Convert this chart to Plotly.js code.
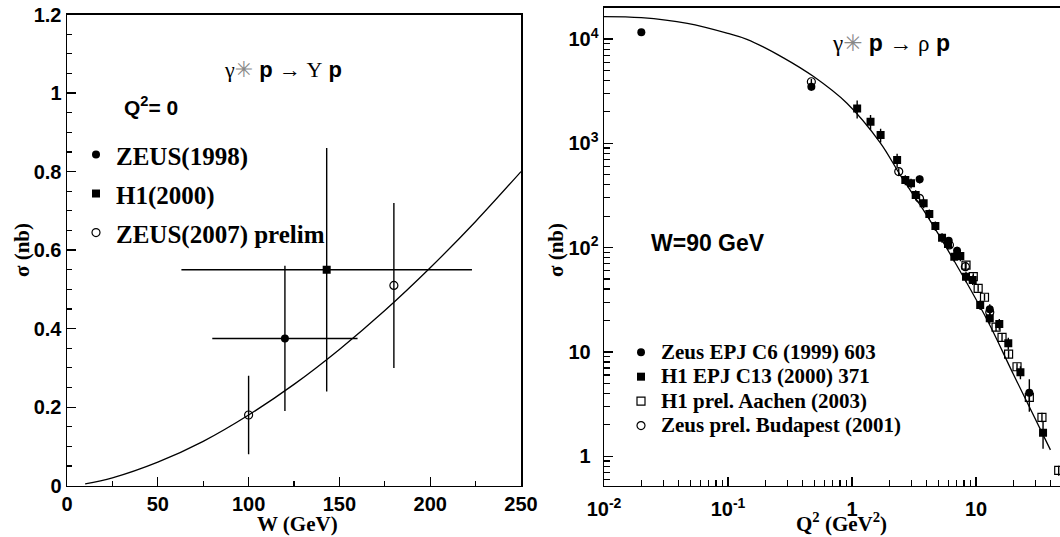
<!DOCTYPE html>
<html><head><meta charset="utf-8">
<script src="https://cdn.plot.ly/plotly-3.0.1.min.js"></script>
<style>html,body{margin:0;padding:0;background:#fff;overflow:hidden}#chart{width:1060px;height:537px}</style>
</head><body><div id="chart"></div>
<script>
// ===== Left panel: gamma* p -> Upsilon p  (Q^2 = 0) =====
const zeus98_W = [120];
const zeus98_sigma = [0.375];
const zeus98_errW = [40];
const zeus98_errSigma = [0.185];

const h1_00_W = [143];
const h1_00_sigma = [0.55];
const h1_00_errW = [80];
const h1_00_errSigma = [0.31];

const zeus07_W = [100, 180];
const zeus07_sigma = [0.18, 0.51];
const zeus07_errSigma = [0.10, 0.21];

const upsCurve_W = [10, 25, 50, 75, 100, 125, 150, 175, 200, 225, 250];
const upsCurve_sigma = [0.0045, 0.020, 0.060, 0.113, 0.180, 0.258, 0.347, 0.446, 0.555, 0.673, 0.800];

const leftLegendNames = ['ZEUS(1998)', 'H1(2000)', 'ZEUS(2007) prelim'];
const xTickVals1 = [0, 50, 100, 150, 200, 250];
const xTickText1 = ['0', '50', '100', '150', '200', '250'];
const yTickVals1 = [0, 0.2, 0.4, 0.6, 0.8, 1, 1.2];
const yTickText1 = ['0', '0.2', '0.4', '0.6', '0.8', '1', '1.2'];

// ===== Right panel: gamma* p -> rho p  (W = 90 GeV) =====
const zeus99_Q2 = [0.02, 0.47, 3.51, 6.02, 7.03, 12.9, 26.9];
const zeus99_sigma = [11600, 3490, 452, 116, 93, 25.6, 4.06];
const zeus99_err = [700, 300, 40, 10, 9, 3, 1.4];

const h1_00r_Q2 = [1.10, 1.41, 1.70, 2.31, 2.69, 2.99, 3.26, 3.78, 4.20, 4.70, 5.32, 5.94, 6.68, 7.47, 8.3, 9.4, 10.8, 12.9, 15.4, 18.2, 22.8, 34.7];
const h1_00r_sigma = [2150, 1610, 1200, 692, 445, 413, 319, 266, 210, 161, 124, 108, 81.8, 83, 52.6, 48.9, 28.2, 21, 18.5, 12.1, 6.37, 1.68];
const h1_00r_err = [420, 260, 180, 100, 50, 45, 35, 28, 22, 17, 13, 12, 9, 9, 6, 5, 3, 2.5, 2.2, 1.6, 0.9, 0.5];

const h1_03_Q2 = [8.3, 9.5, 10.4, 11.7, 14.5, 16.2, 18.3, 21.4, 26.9, 34.0, 46.4];
const h1_03_sigma = [68, 52.6, 40.7, 33.4, 17.3, 13.8, 9.5, 7.2, 3.67, 2.36, 0.73];
const h1_03_err = [5, 4, 3, 2.5, 1.5, 1.2, 0.8, 0.6, 0.35, 0.25, 0.08];

const zeus01_Q2 = [0.47, 2.38, 3.5, 6.1, 8.2, 12.9];
const zeus01_sigma = [3890, 535, 297, 106, 65.6, 24];
const zeus01_err = [250, 40, 25, 8, 6, 2.5];

const rhoCurve_Q2 = [0.01, 0.02, 0.047, 0.1, 0.142, 0.28, 0.49, 0.91, 1.69, 2.45, 4.0, 6.6, 12.3, 20, 39.8];
const rhoCurve_sigma = [16400, 16000, 14100, 11300, 9930, 6600, 4360, 2420, 1010, 495, 205, 76, 20.2, 6.1, 1.15];

const rightLegendNames = ['Zeus EPJ C6 (1999) 603', 'H1 EPJ C13 (2000) 371', 'H1 prel. Aachen (2003)', 'Zeus prel. Budapest (2001)'];

// ticks
const hid = "<sup><span style='color:rgba(0,0,0,0)'>0</span></sup>";
const xTickVals2 = [0.01, 0.1, 1, 10];
const xTickText2 = ['10<sup>-2</sup>', '10<sup>-1</sup>', '1', '10'];
const xMinorVals2 = [0.02,0.03,0.04,0.05,0.06,0.07,0.08,0.09,0.2,0.3,0.4,0.5,0.6,0.7,0.8,0.9,2,3,4,5,6,7,8,9,20,30,40];
const yTickVals2 = [1, 10, 100, 1000, 10000];
const yTickText2 = ['1' + hid, '10' + hid, '10<sup>2</sup>', '10<sup>3</sup>', '10<sup>4</sup>'];
const yMinorVals2 = [0.6,0.7,0.8,0.9,2,3,4,5,6,7,8,9,20,30,40,50,60,70,80,90,200,300,400,500,600,700,800,900,2000,3000,4000,5000,6000,7000,8000,9000];

// ===== geometry helpers (layout only) =====
const W = 1060, H = 537;
const px = v => v / W;
const py = v => 1 - v / H;
const bold = arr => arr.map(s => '<b>' + s + '</b>');

const K = '#000';
const err = (arr) => ({type: 'data', array: arr, width: 0, thickness: 1.4, color: K});
const lgL = s => "<span style='font-size:25px'>" + s + "</span>";
const lgR = s => "<span style='font-size:21px'>" + s + "</span>";

const traces = [
  {x: upsCurve_W, y: upsCurve_sigma, xaxis: 'x', yaxis: 'y', mode: 'lines', line: {color: K, width: 1.3, shape: 'spline'}, showlegend: false, hoverinfo: 'skip'},
  {x: zeus98_W, y: zeus98_sigma, xaxis: 'x', yaxis: 'y', mode: 'markers', name: lgL(leftLegendNames[0]), legend: 'legend',
   marker: {symbol: 'circle', size: 8, color: K}, error_x: err(zeus98_errW), error_y: err(zeus98_errSigma)},
  {x: h1_00_W, y: h1_00_sigma, xaxis: 'x', yaxis: 'y', mode: 'markers', name: lgL(leftLegendNames[1]), legend: 'legend',
   marker: {symbol: 'square', size: 8, color: K}, error_x: err(h1_00_errW), error_y: err(h1_00_errSigma)},
  {x: zeus07_W, y: zeus07_sigma, xaxis: 'x', yaxis: 'y', mode: 'markers', name: lgL(leftLegendNames[2]), legend: 'legend',
   marker: {symbol: 'circle-open', size: 8, color: K, line: {width: 1.2, color: K}}, error_y: err(zeus07_errSigma)},

  {x: rhoCurve_Q2, y: rhoCurve_sigma, xaxis: 'x2', yaxis: 'y2', mode: 'lines', line: {color: K, width: 1.3, shape: 'spline'}, showlegend: false, hoverinfo: 'skip'},
  {x: h1_03_Q2, y: h1_03_sigma, xaxis: 'x2', yaxis: 'y2', mode: 'markers', name: lgR(rightLegendNames[2]), legend: 'legend2', legendrank: 3,
   marker: {symbol: 'square-open', size: 8, color: K, line: {width: 1.2, color: K}}, error_y: err(h1_03_err)},
  {x: zeus01_Q2, y: zeus01_sigma, xaxis: 'x2', yaxis: 'y2', mode: 'markers', name: lgR(rightLegendNames[3]), legend: 'legend2', legendrank: 4,
   marker: {symbol: 'circle-open', size: 8, color: K, line: {width: 1.2, color: K}}, error_y: err(zeus01_err)},
  {x: h1_00r_Q2, y: h1_00r_sigma, xaxis: 'x2', yaxis: 'y2', mode: 'markers', name: lgR(rightLegendNames[1]), legend: 'legend2', legendrank: 2,
   marker: {symbol: 'square', size: 8, color: K}, error_y: err(h1_00r_err)},
  {x: zeus99_Q2, y: zeus99_sigma, xaxis: 'x2', yaxis: 'y2', mode: 'markers', name: lgR(rightLegendNames[0]), legend: 'legend2', legendrank: 1,
   marker: {symbol: 'circle', size: 8, color: K}, error_y: err(zeus99_err)}
];

const tickFont = {family: 'Liberation Sans', size: 20, weight: 'bold', color: K};
const baseAxis = {showgrid: false, zeroline: false, showline: true, linecolor: K, linewidth: 1.5,
  ticks: 'inside', ticklen: 9, tickwidth: 1.3, tickcolor: K, tickfont: tickFont, fixedrange: true, tickmode: 'array'};

const serifB = {family: 'Liberation Serif', size: 21, weight: 'bold', color: K};
const sansB = (s) => ({family: 'Liberation Sans', size: s, weight: 'bold', color: K});
const S = 'font-family:Liberation Serif;font-weight:normal';
const star = "<span style='font-family:DejaVu Sans;font-weight:normal;color:#888'>✳</span>";

const layout = {
  width: W, height: H,
  margin: {l: 0, r: 0, t: 0, b: 0, pad: 0},
  paper_bgcolor: '#fff', plot_bgcolor: '#fff',
  font: {family: 'Liberation Sans', color: K},
  hovermode: false,
  xaxis: Object.assign({}, baseAxis, {domain: [px(67), px(521)], range: [0, 250], mirror: true, anchor: 'y',
    tickvals: xTickVals1, ticktext: bold(xTickText1),
    minor: {dtick: 25, ticks: 'inside', ticklen: 5, tickwidth: 1.2, tickcolor: K}}),
  yaxis: Object.assign({}, baseAxis, {domain: [py(485.7), py(14.5)], range: [0, 1.2], mirror: true, anchor: 'x',
    tickvals: yTickVals1, ticktext: bold(yTickText1),
    minor: {dtick: 0.05, ticks: 'inside', ticklen: 5, tickwidth: 1.2, tickcolor: K}}),
  xaxis2: Object.assign({}, baseAxis, {type: 'log', domain: [px(604), 1], range: [-2, 1.677], mirror: true, anchor: 'y2',
    tickvals: xTickVals2, ticktext: bold(xTickText2), ticklabelstandoff: 5,
    minor: {tickmode: 'array', tickvals: xMinorVals2, ticks: 'inside', ticklen: 6, tickwidth: 1.2, tickcolor: K}}),
  yaxis2: Object.assign({}, baseAxis, {type: 'log', domain: [py(485.7), py(7.7)], range: [-0.283, 4.30], anchor: 'x2',
    tickvals: yTickVals2, ticktext: bold(yTickText2),
    minor: {tickmode: 'array', tickvals: yMinorVals2, ticks: 'inside', ticklen: 6, tickwidth: 1.2, tickcolor: K}}),
  legend: {x: px(76), y: py(130), xanchor: 'left', yanchor: 'top', bgcolor: 'rgba(0,0,0,0)', borderwidth: 0,
    font: {family: 'Liberation Serif', size: 27.7, weight: 'bold', color: K}, tracegroupgap: 0, itemclick: false, itemdoubleclick: false},
  legend2: {x: px(621), y: py(335), xanchor: 'left', yanchor: 'top', bgcolor: 'rgba(0,0,0,0)', borderwidth: 0, traceorder: 'normal',
    font: {family: 'Liberation Serif', size: 16.5, weight: 'bold', color: K}, tracegroupgap: 0, itemclick: false, itemdoubleclick: false},
  annotations: [
    {xref: 'paper', yref: 'paper', x: px(282.5), y: py(70), xanchor: 'center', yanchor: 'middle', showarrow: false,
     font: sansB(22), text: "<span style='" + S + "'>γ</span>" + star + " <b>p</b> <span style='" + S + "'>→ Υ</span> <b>p</b>"},
    {xref: 'paper', yref: 'paper', x: px(122), y: py(106), xanchor: 'left', yanchor: 'middle', showarrow: false,
     font: sansB(21), text: '<b>Q<sup>2</sup>= 0</b>'},
    {xref: 'paper', yref: 'paper', x: px(891), y: py(43), xanchor: 'center', yanchor: 'middle', showarrow: false,
     font: sansB(23), text: "<span style='" + S + "'>γ</span>" + star + " <b>p</b> <span style='" + S + "'>→ ρ</span> <b>p</b>"},
    {xref: 'paper', yref: 'paper', x: px(649), y: py(243), xanchor: 'left', yanchor: 'middle', showarrow: false,
     font: sansB(23), text: '<b>W=90 GeV</b>'},
    {xref: 'paper', yref: 'paper', x: px(297.6), y: py(524), xanchor: 'center', yanchor: 'middle', showarrow: false,
     font: serifB, text: '<b>W (GeV)</b>'},
    {xref: 'paper', yref: 'paper', x: px(22), y: py(250), xanchor: 'center', yanchor: 'middle', showarrow: false, textangle: -90,
     font: serifB, text: '<b>σ (nb)</b>'},
    {xref: 'paper', yref: 'paper', x: px(556), y: py(250), xanchor: 'center', yanchor: 'middle', showarrow: false, textangle: -90,
     font: serifB, text: '<b>σ (nb)</b>'},
    {xref: 'paper', yref: 'paper', x: px(841), y: py(522), xanchor: 'center', yanchor: 'middle', showarrow: false,
     font: serifB, text: '<b>Q<sup>2</sup> (GeV<sup>2</sup>)</b>'}
  ]
};

Plotly.newPlot('chart', traces, layout, {staticPlot: true, displayModeBar: false});
</script>
</body></html>
